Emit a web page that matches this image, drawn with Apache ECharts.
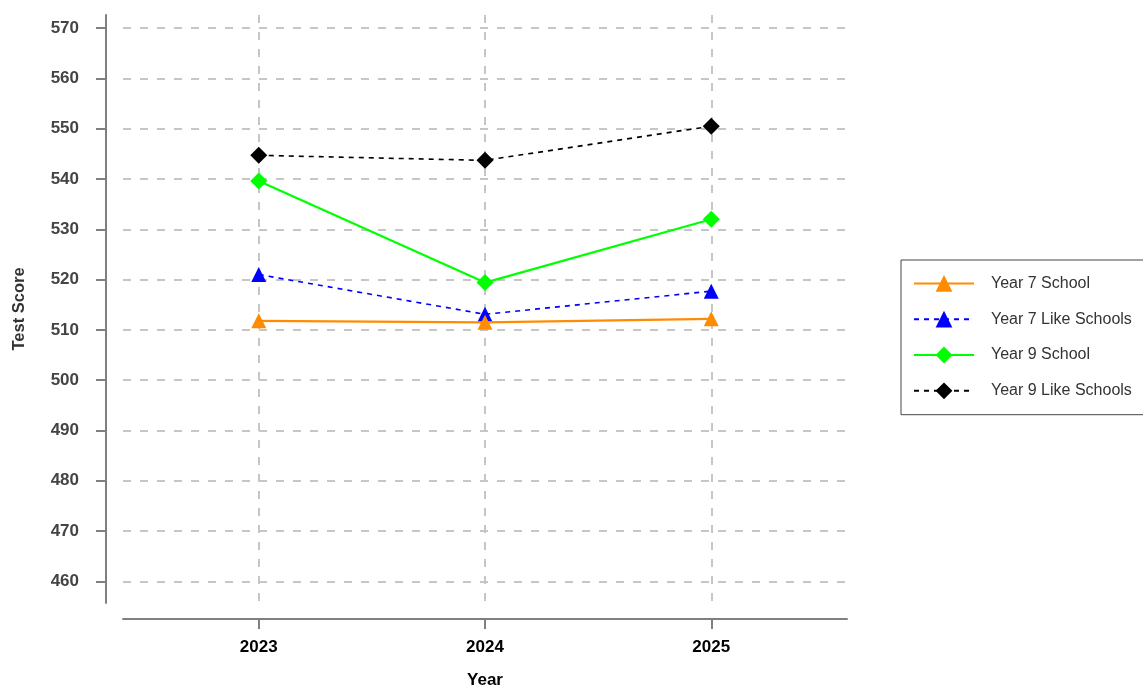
<!DOCTYPE html>
<html>
<head>
<meta charset="utf-8">
<script src="https://cdn.jsdelivr.net/npm/echarts@6/dist/echarts.min.js"></script>
<style>html,body{margin:0;padding:0;background:#fff}#c{width:1143px;height:686px}</style>
</head>
<body>
<div id="c"></div>
<script>
const years = [2023, 2024, 2025];
const yTicks = [460, 470, 480, 490, 500, 510, 520, 530, 540, 550, 560, 570];
const seriesNames = ['Year 7 School', 'Year 7 Like Schools', 'Year 9 School', 'Year 9 Like Schools'];
const y7School = [511.8, 511.5, 512.2];
const y7Like = [521.0, 513.1, 517.7];
const y9School = [539.6, 519.4, 532.0];
const y9Like = [544.7, 543.7, 550.5];

const pair = vals => years.map((y, i) => [y, vals[i]]);
const gridLine = { show: true, lineStyle: { color: '#c6c6c6', width: 2, type: [8, 9] } };

const chart = echarts.init(document.getElementById('c'));
chart.setOption({
  animation: false,
  backgroundColor: '#fff',
  textStyle: { fontFamily: 'Liberation Sans, Arial, sans-serif' },
  grid: { left: 123, right: 296, top: 15, bottom: 83, containLabel: false, outerBoundsMode: 'none' },
  xAxis: {
    type: 'value', min: 2022.4, max: 2025.6, offset: 16,
    name: 'Year', nameLocation: 'middle', nameGap: 53,
    nameTextStyle: { fontSize: 17, fontWeight: 'bold', color: '#000' },
    axisLine: { show: true, lineStyle: { color: '#808080', width: 2 } },
    axisTick: { show: true, length: 10, customValues: years, lineStyle: { color: '#808080', width: 2 } },
    axisLabel: { customValues: years, margin: 20, fontSize: 17, fontWeight: 'bold', color: '#000', formatter: v => String(v) },
    splitLine: gridLine
  },
  yAxis: {
    type: 'value', min: 455.7, max: 572.6, offset: 17,
    name: 'Test Score', nameLocation: 'middle', nameGap: 78,
    nameTextStyle: { fontSize: 16.5, fontWeight: 'bold', color: '#333' },
    axisLine: { show: true, lineStyle: { color: '#808080', width: 2 } },
    axisTick: { show: true, length: 10, customValues: yTicks, lineStyle: { color: '#808080', width: 2 } },
    axisLabel: { customValues: yTicks, margin: 27, fontSize: 17, fontWeight: 'bold', color: '#444' },
    splitLine: gridLine
  },
  legend: {
    orient: 'vertical', left: 901, top: 260,
    data: seriesNames,
    itemWidth: 60, itemHeight: 21, itemGap: 19,
    padding: [15, 60, 15.5, 12],
    borderColor: '#444', borderWidth: 1, borderRadius: 0,
    textStyle: { fontSize: 16, color: '#333', padding: [0, 0, 0, 12] }
  },
  series: [
    { name: seriesNames[0], type: 'line', data: pair(y7School), z: 6,
      symbol: 'triangle', symbolSize: 15, color: '#ff8c00',
      lineStyle: { color: '#ff8c00', width: 2.2 }, itemStyle: { color: '#ff8c00' } },
    { name: seriesNames[1], type: 'line', data: pair(y7Like), z: 5,
      symbol: 'triangle', symbolSize: 15, color: '#0000ff',
      lineStyle: { color: '#0000ff', width: 1.6, type: [5, 5] }, itemStyle: { color: '#0000ff' } },
    { name: seriesNames[2], type: 'line', data: pair(y9School), z: 4,
      symbol: 'diamond', symbolSize: 17, color: '#00ff00',
      lineStyle: { color: '#00ff00', width: 2.2 }, itemStyle: { color: '#00ff00' } },
    { name: seriesNames[3], type: 'line', data: pair(y9Like), z: 3,
      symbol: 'diamond', symbolSize: 17, color: '#000000',
      lineStyle: { color: '#000000', width: 1.6, type: [5, 5] }, itemStyle: { color: '#000000' } }
  ]
});
</script>
</body>
</html>
